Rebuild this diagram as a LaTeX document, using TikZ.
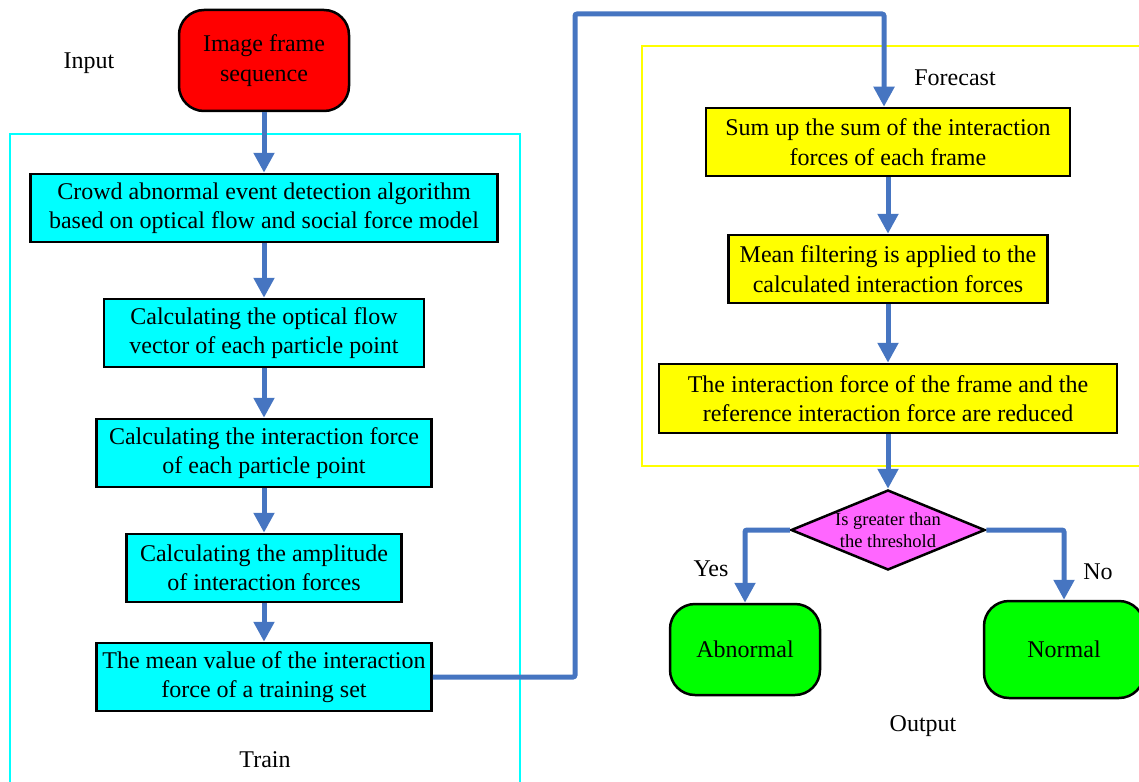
\documentclass[tikz,border=0pt]{standalone}
\usepackage{fontspec}
\setmainfont{Liberation Serif}
\usetikzlibrary{shapes.geometric,arrows.meta}
\definecolor{arrowblue}{RGB}{70,117,193}
\definecolor{cyanbox}{RGB}{0,255,255}
\definecolor{yellowbox}{RGB}{255,255,0}
\definecolor{pinkbox}{RGB}{255,102,255}
\definecolor{greenbox}{RGB}{0,255,0}
\definecolor{redbox}{RGB}{255,0,0}
\tikzset{
  every node/.style={font=\fontsize{24}{29.5}\selectfont, align=center, inner sep=0pt},
  proc/.style={draw=black, line width=2.5pt, minimum height=68pt},
  cyanproc/.style={proc, fill=cyanbox},
  yellowproc/.style={proc, fill=yellowbox},
  term/.style={draw=black, line width=2.5pt, rounded corners=25pt},
  flow/.style={draw=arrowblue, line width=5pt, -{Triangle[width=20pt,length=20pt]}},
  lbl/.style={font=\fontsize{24}{28}\selectfont}
}
\begin{document}
\begin{tikzpicture}[x=1pt,y=-1pt]
\useasboundingbox (0,0) rectangle (1139,781);
\clip (0,0) rectangle (1139,781);
% frames
\draw[cyanbox, line width=1.2pt] (10,134) rectangle (520,790);
\draw[yellowbox, line width=1.2pt] (642,46) rectangle (1150,466);
% labels
\node[lbl] (input) at (89,63) {Input};
\node[lbl] (train) at (265,760) {Train};
\node[lbl] (forecast) at (955,78) {Forecast};
\node[lbl] (output) at (923,726) {Output};
\node[lbl] (yes) at (711,569) {Yes};
\node[lbl] (no) at (1098,572) {No};
% nodes
\node[term, fill=redbox, minimum width=170pt, minimum height=101pt] (start) at (264,60.5) {Image frame\\sequence};
\node[cyanproc, minimum width=467pt] (b1) at (264,208) {Crowd abnormal event detection algorithm\\based on optical flow and social force model};
\node[cyanproc, minimum width=320pt] (b2) at (264,333) {Calculating the optical flow\\vector of each particle point};
\node[cyanproc, minimum width=335pt] (b3) at (264,453) {Calculating the interaction force\\of each particle point};
\node[cyanproc, minimum width=275pt] (b4) at (264,568) {Calculating the amplitude\\of interaction forces};
\node[cyanproc, minimum width=335pt] (b5) at (264,677) {The mean value of the interaction\\force of a training set};
\node[yellowproc, minimum width=364pt] (y1) at (888,142) {Sum up the sum of the interaction\\forces of each frame};
\node[yellowproc, minimum width=319pt] (y2) at (888,269) {Mean filtering is applied to the\\calculated interaction forces};
\node[yellowproc, minimum width=458pt, minimum height=69pt] (y3) at (888,398.5) {The interaction force of the frame and the\\reference interaction force are reduced};
\node[diamond, draw=black, line width=2.5pt, fill=pinkbox, minimum width=194pt, minimum height=80pt, aspect=2.4] (dec) at (888,530) {};
\node[font=\fontsize{18.5}{22}\selectfont] (dectext) at (888,530) {Is greater than\\the threshold};
\node[term, fill=greenbox, minimum width=150pt, minimum height=91pt] (abn) at (745,649.5) {Abnormal};
\node[term, fill=greenbox, minimum width=160pt, minimum height=97pt] (norm) at (1064,649.5) {Normal};
% connectors
\coordinate (c1) at (575,677);
\coordinate (c2) at (575,14);
\coordinate (c3) at (884,14);
\draw[flow] (start) -- (b1);
\draw[flow] (b1) -- (b2);
\draw[flow] (b2) -- (b3);
\draw[flow] (b3) -- (b4);
\draw[flow] (b4) -- (b5);
\draw[flow, rounded corners=2pt] (b5.east) -- (c1) -- (c2) -- (c3) -- (c3 |- y1.north);
\draw[flow] (y1) -- (y2);
\draw[flow] (y2) -- (y3);
\draw[flow] (y3) -- (dec);
\draw[flow, rounded corners=2pt] (dec.west) -| (abn.north);
\draw[flow, rounded corners=2pt] (dec.east) -| (norm.north);
\end{tikzpicture}
\end{document}
